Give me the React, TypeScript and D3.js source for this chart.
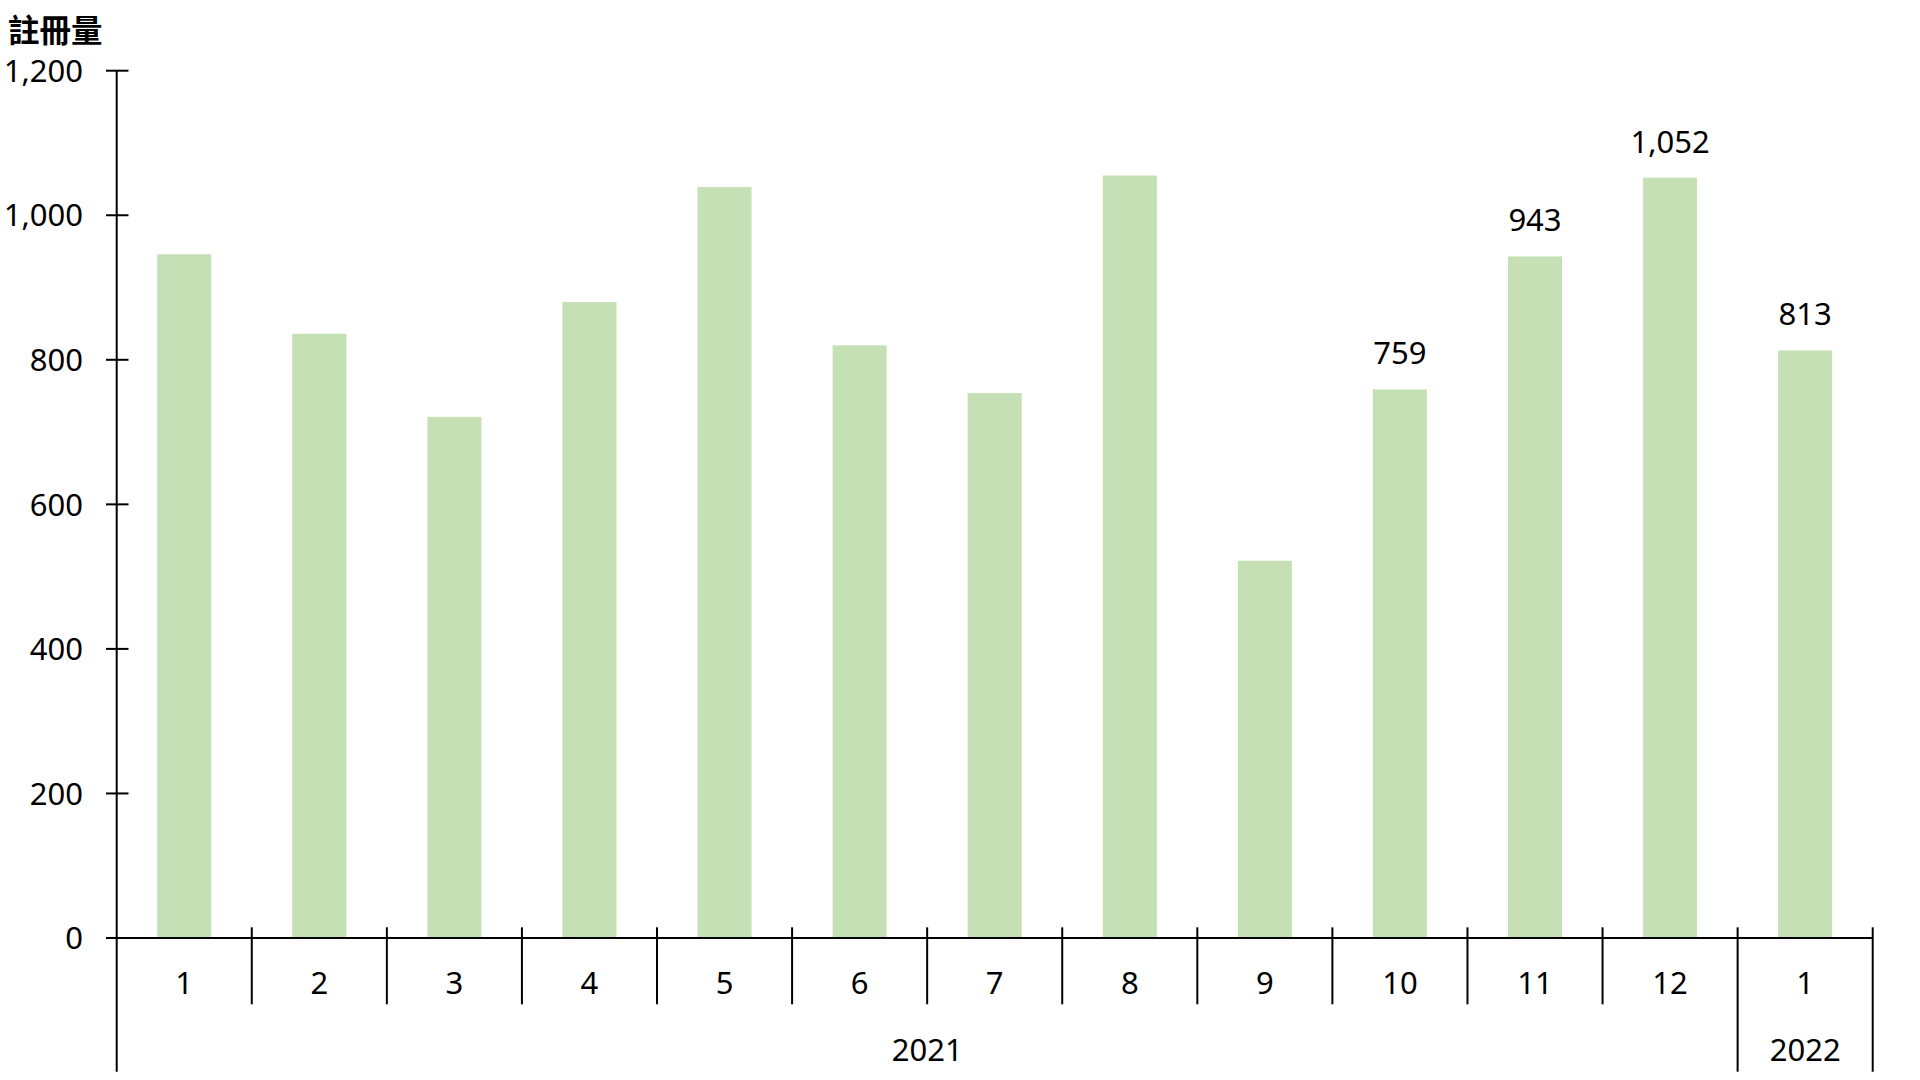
import React from "react";
import * as d3 from "d3";

const months = ["1", "2", "3", "4", "5", "6", "7", "8", "9", "10", "11", "12", "1"];
const years = ["2021", "2022"];
const yearSpans = [12, 1];
const values = [946, 836, 721, 880, 1039, 820, 754, 1055, 522, 759, 943, 1052, 813];
const labeledIdx = [9, 10, 11, 12];
const yTicks = [0, 200, 400, 600, 800, 1000, 1200];
const title = "註冊量";

const W = 1920;
const H = 1080;
const left = 116.7;
const right = 1872.7;
const top = 70.7;
const base = 938;
const FONT = "'Noto Sans', 'Noto Sans CJK TC', sans-serif";
const FS = 31;

export default function App() {
  const x = d3
    .scaleBand<number>()
    .domain(months.map((_, i) => i))
    .range([left, right])
    .paddingInner(0)
    .paddingOuter(0);
  const y = d3.scaleLinear().domain([0, 1200]).range([base, top]);
  const bw = x.bandwidth();
  const barW = bw * 0.4;
  const fmt = d3.format(",");

  const yearBounds: number[] = [];
  let acc = 0;
  yearSpans.forEach((s) => {
    acc += s;
    yearBounds.push(acc);
  });

  const sepIdx = d3.range(1, months.length + 1);

  return (
    <svg
      width={W}
      height={H}
      style={{ position: "absolute", left: 0, top: 0, background: "#fff" }}
      fontFamily={FONT}
    >
      <rect x={0} y={0} width={W} height={H} fill="#fff" />
      <text x={8} y={42} fontSize={31.5} fontWeight="bold" fontFamily="'Noto Sans CJK TC', sans-serif" fill="#000">
        {title}
      </text>

      {values.map((v, i) => (
        <rect
          key={"b" + i}
          x={(x(i) as number) + (bw - barW) / 2}
          y={y(v)}
          width={barW}
          height={base - y(v)}
          fill="#C5E0B4"
        />
      ))}

      {labeledIdx.map((i) => (
        <text
          key={"l" + i}
          x={(x(i) as number) + bw / 2}
          y={y(values[i]) - 25}
          textAnchor="middle"
          fontSize={FS}
          fill="#000"
        >
          {fmt(values[i])}
        </text>
      ))}

      <line x1={left} x2={left} y1={top} y2={1071.7} stroke="#000" strokeWidth={2} />
      {yTicks.map((t) => (
        <g key={"t" + t}>
          <line x1={106} x2={128.5} y1={y(t)} y2={y(t)} stroke="#000" strokeWidth={2} />
          <text x={83} y={y(t)} dy="0.36em" textAnchor="end" fontSize={FS} fill="#000">
            {fmt(t)}
          </text>
        </g>
      ))}

      <line x1={106} x2={right} y1={base} y2={base} stroke="#000" strokeWidth={2} />
      {sepIdx.map((k) => {
        const xx = k < months.length ? (x(k) as number) : right;
        const isYear = yearBounds.includes(k) || k === months.length;
        return (
          <line
            key={"s" + k}
            x1={xx}
            x2={xx}
            y1={927.3}
            y2={isYear ? 1071.7 : 1004.3}
            stroke="#000"
            strokeWidth={2}
          />
        );
      })}
      {months.map((m, i) => (
        <text
          key={"m" + i}
          x={(x(i) as number) + bw / 2}
          y={983}
          dy="0.36em"
          textAnchor="middle"
          fontSize={FS}
          fill="#000"
        >
          {m}
        </text>
      ))}
      {years.map((yr, j) => {
        const start = j === 0 ? 0 : yearBounds[j - 1];
        const end = yearBounds[j];
        const x0 = x(start) as number;
        const x1 = end < months.length ? (x(end) as number) : right;
        return (
          <text
            key={"y" + yr}
            x={(x0 + x1) / 2}
            y={1050}
            dy="0.36em"
            textAnchor="middle"
            fontSize={FS}
            fill="#000"
          >
            {yr}
          </text>
        );
      })}
    </svg>
  );
}
